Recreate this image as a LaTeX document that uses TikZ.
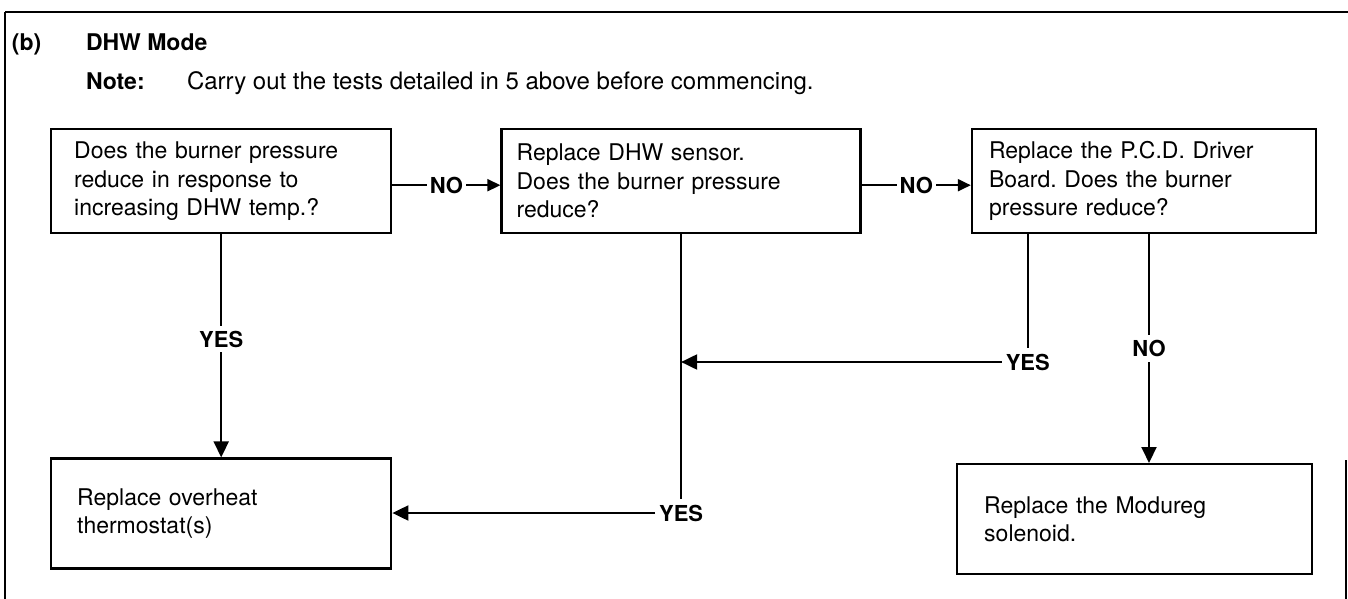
\documentclass[tikz,border=0pt]{standalone}
\usepackage{fontspec}
\setmainfont{TeX Gyre Heros}
\usetikzlibrary{arrows.meta,positioning}
\frenchspacing
\newcommand\boxfont{\fontsize{23}{28.5}\selectfont}
\newcommand\lblfont{\fontsize{22}{24}\selectfont\bfseries}
\newcommand\headfont{\fontsize{23}{26}\selectfont\bfseries}
\tikzstyle{box} = [draw, line width=2.4pt, align=left, font=\boxfont, inner ysep=0pt]
\tikzstyle{lbl} = [fill=white, font=\lblfont, inner xsep=3pt, inner ysep=5pt]
\tikzstyle{head} = [anchor=base west, inner sep=0pt, font=\headfont]
\tikzstyle{arr} = [-{Triangle[length=16pt,width=15pt]}]
\tikzstyle{arrno} = [-{Triangle[length=13pt,width=12pt]}]
\tikzstyle{frame} = [line width=2pt]

\begin{document}
\begin{tikzpicture}[x=1pt, y=-1pt, line width=2pt, node distance=108pt]
    \useasboundingbox (0,0) rectangle (1348,599);
    \draw[frame] (5,12) -- (1348,12);
    \draw[frame] (5,12) -- (5,599);
    \draw[frame] (1346,460) -- (1346,599);

    \node[head] (part) at (11,51) {(b)};
    \node[head] (mode) at (85,51) {DHW Mode};
    \node[head] (note) at (85,90) {Note:};
    \node[head, font=\fontsize{24}{26}\selectfont] (carry) at (186,90) {Carry out the tests detailed in 5 above before commencing.};

    \node[box, anchor=north west, inner xsep=23pt, text width=294pt, minimum height=104pt] (b1) at (50,128)
        {Does the burner pressure\\reduce in response to\\increasing DHW temp.?};
    \node[box, right=of b1, inner xsep=15pt, text width=329pt, minimum height=104pt] (b2)
        {Replace DHW sensor.\\Does the burner pressure\\reduce?};
    \node[box, right=109pt of b2, inner xsep=17pt, text width=310pt, minimum height=104pt] (b3)
        {Replace the P.C.D. Driver\\Board. Does the burner\\pressure reduce?};
    \node[box, below=223pt of b1, inner xsep=26pt, text width=288pt, minimum height=110pt] (b4)
        {Replace overheat\\thermostat(s)};
    \node[box, anchor=north west, inner xsep=27pt, text width=301pt, minimum height=110pt] (b5) at (956,463)
        {Replace the Modureg\\solenoid.};

    \coordinate (midrow) at (0,362);
    \coordinate (lowrow) at (0,513);
    \coordinate (yesx) at ([xshift=57pt]b3.south west);
    \coordinate (nox) at ([xshift=5pt]b3.south);
    \node[lbl] (yup) at (yesx |- midrow) {YES};
    \node[lbl] (ylow) at (b2.south |- lowrow) {YES};

    \draw
    ([yshift=-4pt]b1.east) edge[arrno] node[lbl] {NO} ([yshift=-4pt]b2.west)
    ([yshift=-4pt]b2.east) edge[arrno] node[lbl] {NO} ([yshift=-4pt]b3.west)
    (b1.south) edge[arr] node[lbl, pos=0.47] {YES} (b1.south |- b4.north)
    (nox) edge[arr] node[lbl] {NO} (nox |- b5.north)
    (yesx) edge (yup.north)
    (yup.west) edge[arr] (yup.west -| b2.south)
    (b2.south) edge (ylow.north)
    (ylow.west) edge[arr] (ylow.west -| b4.east)
    ;
\end{tikzpicture}
\end{document}
